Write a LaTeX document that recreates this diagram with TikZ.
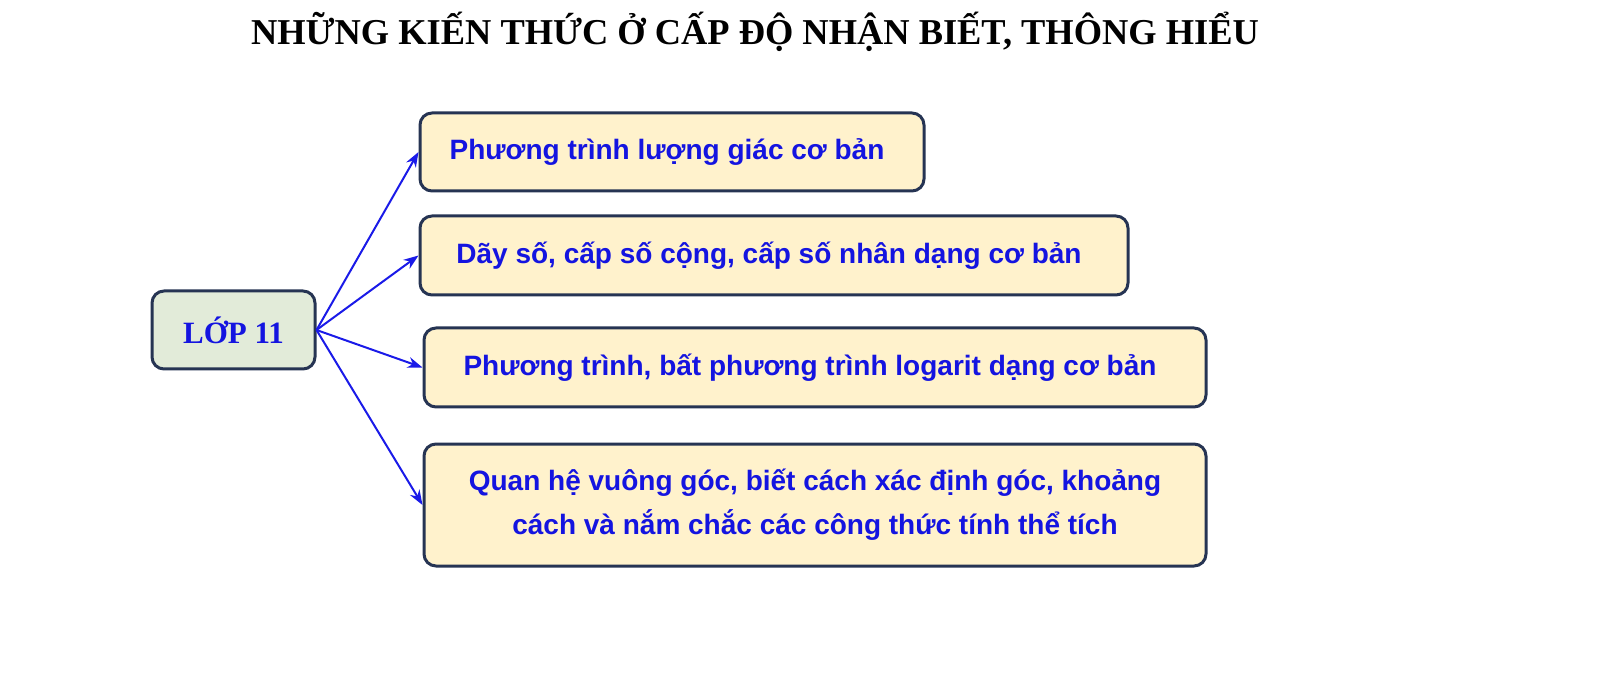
\documentclass[tikz,border=0pt]{standalone}
\usepackage{fontspec}
\setmainfont{Liberation Serif}
\newfontfamily\boxfont{Liberation Sans}
\usetikzlibrary{arrows.meta}
\definecolor{cream}{HTML}{FFF2CC}
\definecolor{sage}{HTML}{E2EBD9}
\definecolor{navy}{HTML}{263453}
\definecolor{txtblue}{HTML}{1414E0}
\definecolor{arrblue}{HTML}{1A1AE8}
\begin{document}
\begin{tikzpicture}[x=0.5pt,y=-0.5pt,
  topic/.style={draw=navy,line width=1.5pt,rounded corners=6pt,fill=cream,
    text=txtblue,font=\boxfont\bfseries\fontsize{14}{22}\selectfont,
    inner sep=0pt,align=center},
  rootbox/.style={draw=navy,line width=1.5pt,rounded corners=6pt,fill=sage,
    text=txtblue,font=\bfseries\fontsize{15.5}{18}\selectfont,inner sep=0pt,
    minimum width=81.5pt,minimum height=39pt},
  link/.style={draw=arrblue,line width=1pt,-{Stealth[length=7.5pt,width=5.5pt]}}]
\useasboundingbox (0,0) rectangle (1600,678);
\node[font=\bfseries\fontsize{18.2}{22}\selectfont] (title) at (755,32) {NHỮNG KIẾN THỨC Ở CẤP ĐỘ NHẬN BIẾT, THÔNG HIỂU};
\node[rootbox] (root) at (233.5,330) {LỚP 11};
\node[topic,minimum width=252pt,minimum height=39pt] (b1) at (672,152) {Phương trình lượng giác cơ bản\hspace{5pt}};
\node[topic,minimum width=354pt,minimum height=39.5pt] (b2) at (774,255.5) {Dãy số, cấp số cộng, cấp số nhân dạng cơ bản\hspace{5pt}};
\node[topic,minimum width=391pt,minimum height=39.5pt] (b3) at (815,367.5) {Phương trình, bất phương trình logarit dạng cơ bản\hspace{5pt}};
\node[topic,minimum width=391pt,minimum height=61pt] (b4) at (815,505) {Quan hệ vuông góc, biết cách xác định góc, khoảng\\cách và nắm chắc các công thức tính thể tích};
\draw[link] (root.east) -- (b1.west);
\draw[link] (root.east) -- (b2.west);
\draw[link] (root.east) -- (b3.west);
\draw[link] (root.east) -- (b4.west);
\end{tikzpicture}
\end{document}
